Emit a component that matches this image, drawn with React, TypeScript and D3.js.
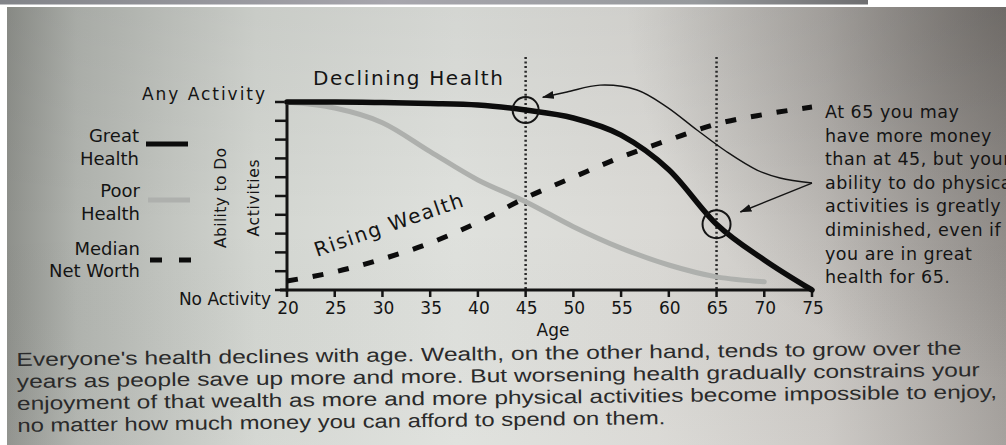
import React from "react";
import * as d3 from "d3";

// ages on the x axis (every 5 years)
const ages = [20, 25, 30, 35, 40, 45, 50, 55, 60, 65, 70, 75];
// ability to do activities, 0 = no activity, 10 = any activity
const greatHealth = [10, 10, 9.97, 9.92, 9.84, 9.57, 9.15, 8.24, 6.4, 3.5, 1.6, 0];
const poorHealth = [10, 9.68, 8.9, 7.36, 5.85, 4.7, 3.37, 2.23, 1.33, 0.7, 0.44];
const netWorth = [0.48, 0.96, 1.65, 2.5, 3.6, 4.9, 6.0, 7.07, 7.98, 8.83, 9.34, 9.73];
const activityTicks = [0, 1, 2, 3, 4, 5, 6, 7, 8, 9, 10];
const markedAges = [45, 65];

// annotation arrows, in [age, activity]
const arrowCurve: [number, number][] = [
  [75, 5.69], [71.65, 5.96], [69.24, 6.38], [66.1, 7.34], [62.95, 8.51],
  [59.81, 9.73], [56.67, 10.64], [52.79, 10.9], [49.33, 10.53], [46.8, 10.25],
];
const arrowStraight: [number, number][] = [[75, 5.69], [67.5, 4.15]];

const noteLines = [
  "At 65 you may",
  "have more money",
  "than at 45, but your",
  "ability to do physical",
  "activities is greatly",
  "diminished, even if",
  "you are in great",
  "health for 65.",
];

const captionLines = [
  "Everyone's health declines with age. Wealth, on the other hand, tends to grow over the",
  "years as people save up more and more. But worsening health gradually constrains your",
  "enjoyment of that wealth as more and more physical activities become impossible to enjoy,",
  "no matter how much money you can afford to spend on them.",
];
const captionWidths = [945, 963, 980, 648];

const hand = "'DejaVu Sans', sans-serif";
const ink = "#141414";

export default function App() {
  const x = d3.scaleLinear().domain([20, 75]).range([287, 812]);
  const y = d3.scaleLinear().domain([0, 10]).range([290, 102]);

  const valueLine = d3
    .line<number>()
    .x((_, i) => x(ages[i]))
    .y((d) => y(d))
    .curve(d3.curveMonotoneX);

  const noteLine = d3
    .line<[number, number]>()
    .x((d) => x(d[0]))
    .y((d) => y(d[1]))
    .curve(d3.curveCatmullRom);

  const circleAt = (age: number) => {
    const i = ages.indexOf(age);
    return { cx: x(age), cy: y(greatHealth[i]) };
  };

  return (
    <svg
      width={1006}
      height={445}
      style={{ position: "fixed", left: 0, top: 0, background: "#fff" }}
    >
      <defs>
        <linearGradient id="strip" x1="0" x2="1" y1="0" y2="0">
          <stop offset="0" stopColor="#828489" />
          <stop offset="0.45" stopColor="#a7a6ad" />
          <stop offset="0.8" stopColor="#979a9d" />
          <stop offset="1" stopColor="#6e6e70" />
        </linearGradient>
        <linearGradient id="paper" x1="0" x2="1" y1="0" y2="0">
          <stop offset="0" stopColor="#8e908b" />
          <stop offset="0.07" stopColor="#b0b3ae" />
          <stop offset="0.25" stopColor="#d3d6d1" />
          <stop offset="0.45" stopColor="#dfe1dd" />
          <stop offset="0.65" stopColor="#dad9d5" />
          <stop offset="0.82" stopColor="#cbc8c4" />
          <stop offset="1" stopColor="#a29e9a" />
        </linearGradient>
        <radialGradient id="corner" cx="1006" cy="0" r="380" gradientUnits="userSpaceOnUse">
          <stop offset="0" stopColor="#3a3633" stopOpacity="0.45" />
          <stop offset="1" stopColor="#3a3633" stopOpacity="0" />
        </radialGradient>
        <linearGradient id="shade" x1="0" x2="0" y1="0" y2="1">
          <stop offset="0" stopColor="#000" stopOpacity="0.05" />
          <stop offset="0.5" stopColor="#000" stopOpacity="0" />
          <stop offset="1" stopColor="#fff" stopOpacity="0.04" />
        </linearGradient>
        <marker
          id="head"
          viewBox="0 0 12 8"
          refX="11"
          refY="4"
          markerWidth="12"
          markerHeight="8"
          markerUnits="userSpaceOnUse"
          orient="auto"
        >
          <path d="M0,0 L12,4 L0,8 Z" fill={ink} />
        </marker>
      </defs>

      {/* photo background */}
      <rect x={0} y={0} width={868} height={4.5} fill="url(#strip)" />
      <rect x={7} y={7} width={999} height={438} fill="url(#paper)" />
      <rect x={7} y={7} width={999} height={438} fill="url(#corner)" />
      <rect x={7} y={7} width={999} height={438} fill="url(#shade)" />

      {/* dotted markers at 45 and 65 */}
      {markedAges.map((a) => (
        <line
          key={a}
          x1={x(a)}
          x2={x(a)}
          y1={y(12.4)}
          y2={y(0)}
          stroke="#2a2a2a"
          strokeWidth={2.5}
          strokeDasharray="2 2.6"
        />
      ))}

      {/* axes */}
      <line x1={x(20)} x2={x(20)} y1={y(10)} y2={y(0) + 1.5} stroke={ink} strokeWidth={3} />
      <line x1={x(20) - 7} x2={x(75)} y1={y(0)} y2={y(0)} stroke={ink} strokeWidth={3} />
      {activityTicks.map((t) => (
        <line key={t} x1={x(20) - 12} x2={x(20)} y1={y(t)} y2={y(t)} stroke={ink} strokeWidth={2.5} />
      ))}
      {ages.map((a) => (
        <g key={a}>
          <line x1={x(a)} x2={x(a)} y1={y(0)} y2={y(0) + 7} stroke={ink} strokeWidth={2.5} />
          <text
            x={x(a) + 1}
            y={314}
            textAnchor="middle"
            fontFamily={hand}
            fontSize={17}
            fill={ink}
          >
            {a}
          </text>
        </g>
      ))}

      {/* series */}
      <path d={valueLine(poorHealth) || ""} fill="none" stroke="#aeb0ad" strokeWidth={5} strokeLinecap="round" />
      <path d={valueLine(greatHealth) || ""} fill="none" stroke="#0c0c0c" strokeWidth={5.5} strokeLinecap="round" />
      <path d={valueLine(netWorth) || ""} fill="none" stroke="#0c0c0c" strokeWidth={5} strokeDasharray="11 15" />

      {/* circles and arrows */}
      {markedAges.map((a, i) => {
        const c = circleAt(a);
        return <circle key={a} cx={c.cx} cy={c.cy} r={i === 0 ? 13 : 14} fill="none" stroke={ink} strokeWidth={2} />;
      })}
      <path d={noteLine(arrowCurve) || ""} fill="none" stroke={ink} strokeWidth={1.4} markerEnd="url(#head)" />
      <path d={noteLine(arrowStraight) || ""} fill="none" stroke={ink} strokeWidth={1.4} markerEnd="url(#head)" />

      {/* hand lettering */}
      <g fontFamily={hand} fill={ink}>
        <text x={313} y={85} fontSize={20} textLength={190}>Declining Health</text>
        <text transform="translate(317,257) rotate(-19)" fontSize={20} textLength={156}>Rising Wealth</text>
        <text x={553} y={336} fontSize={17} textAnchor="middle">Age</text>
        <text x={142} y={100} fontSize={17} textLength={123}>Any Activity</text>
        <text x={271} y={305} fontSize={17} textAnchor="end">No Activity</text>

        <text transform="translate(226,198) rotate(-90)" fontSize={15.5} textAnchor="middle" textLength={100}>Ability to Do</text>
        <text transform="translate(259,198) rotate(-90)" fontSize={15.5} textAnchor="middle" textLength={77}>Activities</text>

        <text x={139} y={142} fontSize={18} textAnchor="end">Great</text>
        <text x={139} y={165} fontSize={18} textAnchor="end">Health</text>
        <text x={140} y={197} fontSize={18} textAnchor="end">Poor</text>
        <text x={140} y={220} fontSize={18} textAnchor="end">Health</text>
        <text x={140} y={255} fontSize={18} textAnchor="end">Median</text>
        <text x={140} y={277} fontSize={18} textAnchor="end">Net Worth</text>

        {noteLines.map((l, i) => (
          <text key={i} x={825} y={118 + i * 23.6} fontSize={17.5} letterSpacing={0.5}>
            {l}
          </text>
        ))}
      </g>

      {/* legend swatches */}
      <line x1={146} x2={188} y1={144} y2={144} stroke="#0c0c0c" strokeWidth={5} />
      <line x1={148} x2={190} y1={200} y2={200} stroke="#aeb0ad" strokeWidth={5} />
      <line x1={150} x2={192} y1={260} y2={260} stroke="#0c0c0c" strokeWidth={5} strokeDasharray="12 17" />

      {/* printed caption */}
      <g
        transform="rotate(-0.7, 17, 400)"
        fontFamily="'Liberation Sans', Arial, sans-serif"
        fontSize={19}
        fill="#2a2a2a"
      >
        {captionLines.map((l, i) => (
          <text key={i} x={17} y={366 + i * 22} textLength={captionWidths[i]} lengthAdjust="spacingAndGlyphs">
            {l}
          </text>
        ))}
      </g>
    </svg>
  );
}
